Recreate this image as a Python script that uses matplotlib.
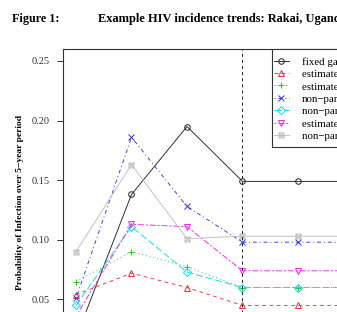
import numpy as np
import matplotlib
matplotlib.use("Agg")
import matplotlib.pyplot as plt
from matplotlib.path import Path
from matplotlib.patches import Rectangle

plt.rcParams['font.family'] = ['Liberation Serif', 'DejaVu Serif']
plt.rcParams['lines.scale_dashes'] = False

# ~~~~~~~~ data ~~~~~~~~
period = [1, 2, 3, 4, 5, 6]
fixed_gap = [0.018, 0.138, 0.195, 0.149, 0.149, 0.149]
est_gap = [0.054, 0.072, 0.060, 0.045, 0.045, 0.045]
est_gap_sm = [0.065, 0.090, 0.0775, 0.060, 0.060, 0.060]
nonpar = [0.051, 0.186, 0.128, 0.098, 0.098, 0.098]
nonpar_sm = [0.045, 0.111, 0.073, 0.060, 0.060, 0.060]
est_gap_adj = [0.036, 0.113, 0.111, 0.074, 0.074, 0.074]
nonpar_adj = [0.090, 0.163, 0.101, 0.103, 0.103, 0.103]

labels = ["fixed gap", "estimated gap", "estimated gap (smoothed)",
          "non\u2212parametric", "non\u2212parametric (smoothed)",
          "estimated gap (adjusted)", "non\u2212parametric (adjusted)"]
series = [fixed_gap, est_gap, est_gap_sm, nonpar, nonpar_sm, est_gap_adj, nonpar_adj]
yticks = [0.05, 0.10, 0.15, 0.20, 0.25]
cut_year = 4

# R pch 7: square with a cross
boxx = Path([(-1, -1), (1, -1), (1, 1), (-1, 1), (-1, -1),
             (-1, -1), (1, 1), (-1, 1), (1, -1)],
            [Path.MOVETO, Path.LINETO, Path.LINETO, Path.LINETO, Path.CLOSEPOLY,
             Path.MOVETO, Path.LINETO, Path.MOVETO, Path.LINETO])

colors = ['#222222', '#F03030', '#20CD20', '#3030F0', '#00E0EE', '#F020F0', '#BEBEBE']
styles = ['-', (0, (2.6, 2.6)), (0, (0.7, 2.1)), (0, (0.7, 2.1, 2.8, 2.1)),
          (0, (5.0, 2.1)), (0, (1.4, 1.4, 4.3, 1.4)), '-']
markers = ['o', '^', '+', 'x', 'D', 'v', boxx]
msizes = [4, 4.5, 5, 4, 4, 4.5, 3.6]

fig = plt.figure(figsize=(3.37, 3.12), dpi=100)
W, H = 337.0, 312.0
ax = fig.add_axes([63 / W, (H - 371) / H, (422 - 63) / W, (371 - 49) / H])

handles = []
for y, lab, c, ls, m, ms in zip(series, labels, colors, styles, markers, msizes):
    h, = ax.plot(period, y, color=c, lw=0.65, linestyle=ls, marker=m, ms=ms,
                 mfc='none', mec=c, mew=0.7, label=lab)
    handles.append(h)

ax.axvline(cut_year, color='#222222', lw=0.7, linestyle=(0, (2.2, 2.2)))

ax.set_xlim(0.766, 7.234)
ax.set_ylim(-0.01, 0.26)
ax.set_yticks(yticks)
ax.set_yticklabels(["%.2f" % v for v in yticks])
ax.tick_params(axis='y', length=4.3, width=0.7, pad=5, labelsize=7.5, colors='#333333')
ax.set_xticks([])
for s in ax.spines.values():
    s.set_linewidth(0.8)
    s.set_color('#333333')

# legend box drawn by hand, entries placed without frame
box = Rectangle((272 / W, (H - 147) / H), 0.5, 98 / H, transform=fig.transFigure,
                facecolor='white', edgecolor='#333333', lw=0.8, zorder=4, clip_on=False)
ax.add_patch(box)
leg = ax.legend(handles=handles, loc='upper left', bbox_to_anchor=(274 / W, (H - 57) / H),
                bbox_transform=fig.transFigure, borderaxespad=0, borderpad=0, fontsize=7.8,
                handlelength=1.35, handletextpad=1.2, labelspacing=0.25, frameon=False)
leg.set_zorder(5)

fig.text(20 / W, (H - 202) / H, "Probability of Infection over 5\u2212year period",
         rotation=90, ha='center', va='center', fontsize=6.8, fontweight='bold')
fig.text(12 / W, (H - 19) / H, "Figure 1:", ha='left', va='center',
         fontsize=8.7, fontweight='bold')
fig.text(98 / W, (H - 19) / H, "Example HIV incidence trends: Rakai, Uganda",
         ha='left', va='center', fontsize=8.9, fontweight='bold')

fig.savefig('out.png', dpi=100)
